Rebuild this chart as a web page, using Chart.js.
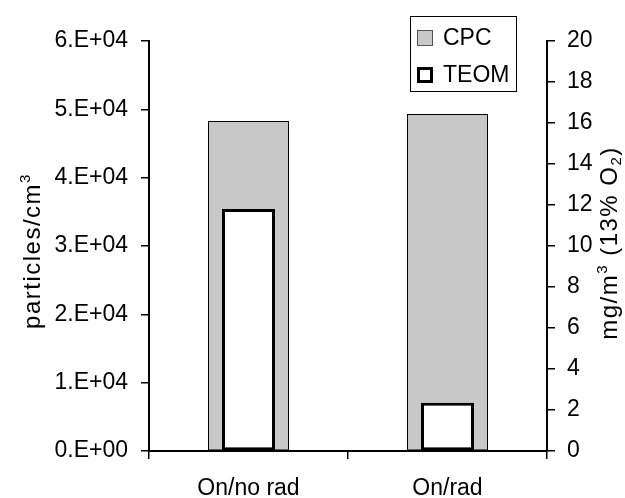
<!DOCTYPE html>
<html>
<head>
<meta charset="utf-8">
<script src="https://cdn.jsdelivr.net/npm/chart.js@4/dist/chart.umd.min.js"></script>
<style>
  html, body { margin: 0; padding: 0; background: #fff; }
  canvas { display: block; }
</style>
</head>
<body>
<canvas id="particleChart" width="625" height="498"></canvas>
<script>
const categories = ['On/no rad', 'On/rad'];
const cpcValues = [48300, 49300];
const teomValues = [11.8, 2.35];
const leftTickLabels = ['0.E+00', '1.E+04', '2.E+04', '3.E+04', '4.E+04', '5.E+04', '6.E+04'];
const rightTickLabels = ['0', '2', '4', '6', '8', '10', '12', '14', '16', '18', '20'];
// title pieces: [text, font size, baseline shift] so super/subscripts sit like the original
const leftTitle = [['particles/cm', 24, 0], ['3', 15, -10]];
const rightTitle = [['mg/m', 24, 0], ['3', 15, -10], [' (13% O', 24, 0], ['2', 15, 4], [')', 24, 0]];

const FONT = '"Liberation Sans", Arial, sans-serif';
Chart.defaults.font.family = FONT;
Chart.defaults.font.size = 23;
Chart.defaults.color = '#000';

function drawTitle(ctx, runs, x, y) {
    ctx.save();
    ctx.translate(x, y);
    ctx.rotate(-Math.PI / 2);
    ctx.letterSpacing = '1.5px';
    ctx.textAlign = 'left';
    ctx.textBaseline = 'alphabetic';
    let total = 0;
    const widths = runs.map(r => {
        ctx.font = r[1] + 'px ' + FONT;
        const w = ctx.measureText(r[0]).width;
        total += w;
        return w;
    });
    let cx = -total / 2;
    runs.forEach((r, i) => {
        ctx.font = r[1] + 'px ' + FONT;
        ctx.fillText(r[0], cx, r[2]);
        cx += widths[i];
    });
    ctx.restore();
}

// axis titles (both read bottom to top) and the boxed legend
const overlayPlugin = {
    id: 'overlay',
    afterDraw(chart) {
        const ctx = chart.ctx;
        const area = chart.chartArea;
        ctx.save();
        ctx.fillStyle = '#000';
        drawTitle(ctx, leftTitle, area.left - 109, 251);
        drawTitle(ctx, rightTitle, area.right + 70, 243);

        const box = { x: area.right - 137, y: 16, w: 106, h: 75 };
        ctx.fillStyle = '#fff';
        ctx.fillRect(box.x, box.y, box.w, box.h);
        ctx.strokeStyle = '#000';
        ctx.lineWidth = 1;
        ctx.strokeRect(box.x + 0.5, box.y + 0.5, box.w, box.h);

        ctx.font = '23px ' + FONT;
        ctx.textAlign = 'left';
        ctx.textBaseline = 'alphabetic';
        chart.data.datasets.forEach((ds, i) => {
            const sy = box.y + 14 + i * 37;
            const sx = box.x + 7;
            const bw = i === 0 ? 1 : 3;
            ctx.fillStyle = i === 0 ? '#555' : ds.borderColor;
            ctx.fillRect(sx, sy, 16, 16);
            ctx.fillStyle = ds.backgroundColor;
            ctx.fillRect(sx + bw, sy + bw, 16 - 2 * bw, 16 - 2 * bw);
            ctx.fillStyle = '#000';
            ctx.fillText(ds.label, sx + 26, sy + 15);
        });
        ctx.restore();
    }
};

document.addEventListener('DOMContentLoaded', function() {
    const ctx = document.getElementById('particleChart').getContext('2d');
    new Chart(ctx, {
        type: 'bar',
        data: {
            labels: categories,
            datasets: [
                {
                    label: 'CPC',
                    data: cpcValues,
                    yAxisID: 'y',
                    backgroundColor: '#c8c8c8',
                    borderColor: '#000000',
                    borderWidth: 1,
                    borderSkipped: false,
                    inflateAmount: 0,
                    barPercentage: 81 / 199,
                    categoryPercentage: 1,
                    grouped: false,
                    order: 1
                },
                {
                    label: 'TEOM',
                    data: teomValues,
                    yAxisID: 'y1',
                    backgroundColor: '#ffffff',
                    borderColor: '#000000',
                    borderWidth: 3,
                    borderSkipped: false,
                    inflateAmount: 0,
                    barPercentage: 53 / 199,
                    categoryPercentage: 1,
                    grouped: false,
                    order: 0
                }
            ]
        },
        options: {
            responsive: false,
            animation: false,
            events: [],
            layout: {
                padding: { top: 41, left: 0, right: 0, bottom: 0 }
            },
            plugins: {
                legend: { display: false },
                tooltip: { enabled: false }
            },
            scales: {
                x: {
                    offset: true,
                    grid: {
                        display: true,
                        drawOnChartArea: false,
                        offset: true,
                        tickLength: 8,
                        color: '#000',
                        lineWidth: 1.5
                    },
                    border: { display: true, color: '#000', width: 2 },
                    ticks: { padding: 16, maxRotation: 0, minRotation: 0 },
                    afterFit: function(scale) { scale.height = 47; }
                },
                y: {
                    position: 'left',
                    min: 0,
                    max: 60000,
                    grid: {
                        drawOnChartArea: false,
                        tickLength: 8,
                        color: '#000',
                        lineWidth: 1.5
                    },
                    border: { display: true, color: '#000', width: 2 },
                    ticks: {
                        stepSize: 10000,
                        padding: 13,
                        callback: (value, index) => leftTickLabels[index]
                    },
                    afterFit: function(scale) { scale.width = 149; }
                },
                y1: {
                    position: 'right',
                    min: 0,
                    max: 20,
                    grid: {
                        drawOnChartArea: false,
                        tickLength: 8,
                        color: '#000',
                        lineWidth: 1.5
                    },
                    border: { display: true, color: '#000', width: 2 },
                    ticks: {
                        stepSize: 2,
                        padding: 12,
                        callback: (value, index) => rightTickLabels[index]
                    },
                    afterFit: function(scale) { scale.width = 78; }
                }
            }
        },
        plugins: [overlayPlugin]
    });
});
</script>
</body>
</html>
